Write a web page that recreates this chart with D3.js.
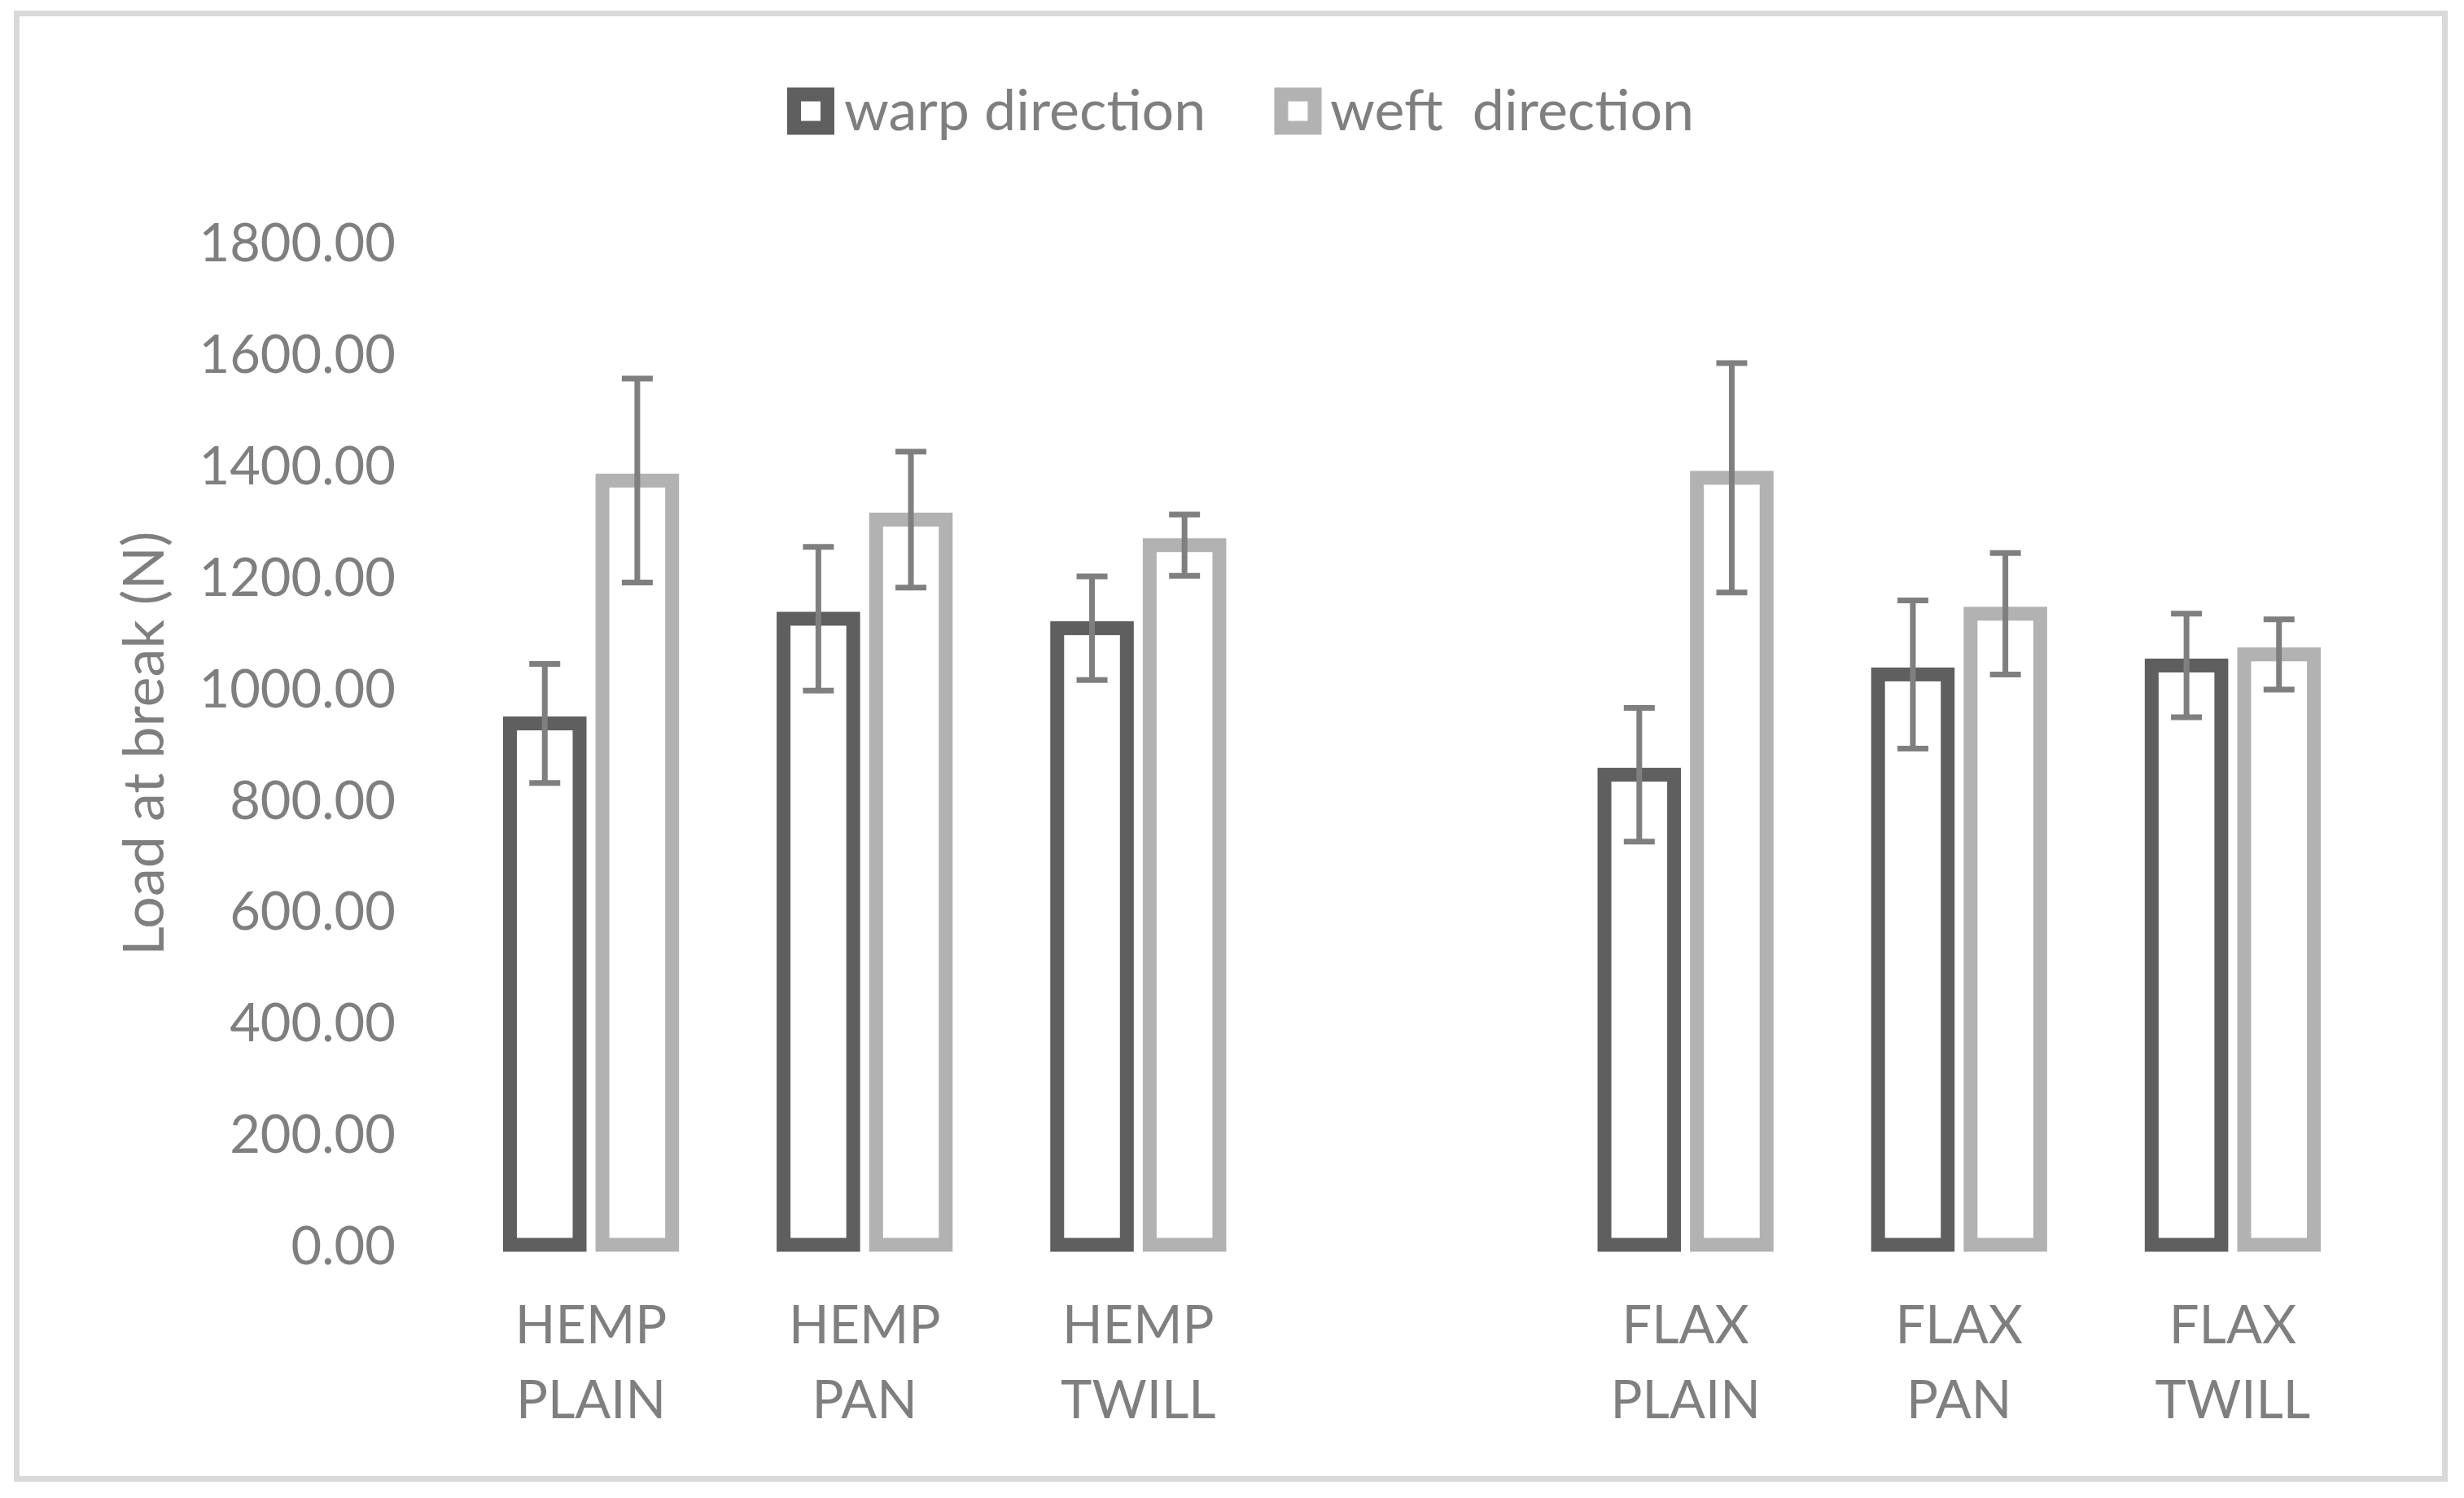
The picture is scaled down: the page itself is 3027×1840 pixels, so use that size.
<!DOCTYPE html>
<html>
<head>
<meta charset="utf-8">
<script src="https://cdn.jsdelivr.net/npm/d3@7"></script>
<style>
  html, body { margin: 0; padding: 0; background: #ffffff; }
  svg { display: block; }
  text { font-family: Lato, "Liberation Sans", sans-serif; fill: #7f7f7f; }
</style>
</head>
<body>
<script>
// ---- data ----
const categories = ["HEMP PLAIN", "HEMP PAN", "HEMP TWILL", "", "FLAX PLAIN", "FLAX PAN", "FLAX TWILL"];
const seriesNames = ["warp direction", "weft  direction"];
const warpValues = [936, 1124, 1107, null, 844, 1024, 1040];
const warpErrors = [107, 129, 93, null, 120, 133, 93];
const weftValues = [1372, 1302, 1256, null, 1377, 1133, 1060];
const weftErrors = [183, 122, 55, null, 206, 109, 63];
const yTicks = [0, 200, 400, 600, 800, 1000, 1200, 1400, 1600, 1800];
const yTitle = "Load at break (N)";

// ---- layout / style ----
const W = 3027, H = 1840;
const colors = ["#5f5f5f", "#b2b2b2"];
const errColor = "#7f7f7f";
const barStroke = 17;
const fontSize = 65;
const legendFontSize = 70;
const titleFontSize = 70;

const svg = d3.select("body").append("svg")
  .attr("width", W).attr("height", H);

svg.append("rect").attr("width", W).attr("height", H).attr("fill", "#ffffff");

// outer chart border
svg.append("rect")
  .attr("x", 20.5).attr("y", 16.5)
  .attr("width", 2983).attr("height", 1800)
  .attr("fill", "none").attr("stroke", "#d9d9d9").attr("stroke-width", 7);

const x0 = d3.scaleBand().domain(categories).range([558, 2911]).paddingInner(0).paddingOuter(0);
const x1 = d3.scaleBand().domain(["warp", "weft"]).range([0, x0.bandwidth()])
  .paddingInner(0.0977).paddingOuter(0.5277);
const y = d3.scaleLinear().domain([0, 1800]).range([1529, 297.5]);

// y axis (labels only)
const yAxis = d3.axisLeft(y).tickValues(yTicks).tickFormat(d3.format(".2f")).tickSize(0).tickPadding(0);
const gy = svg.append("g").attr("transform", "translate(486,0)").call(yAxis);
gy.select(".domain").remove();
gy.selectAll("text")
  .attr("fill", "#7f7f7f")
  .style("font-family", "Lato, 'Liberation Sans', sans-serif")
  .style("font-size", fontSize + "px")
  .attr("dy", "0.36em");

// y title
svg.append("text")
  .attr("transform", `translate(201, ${(y(0) + y(1800)) / 2}) rotate(-90)`)
  .attr("text-anchor", "middle")
  .style("font-size", titleFontSize + "px")
  .text(yTitle);

// rows
const rows = categories.map((c, i) => ({
  cat: c,
  bars: [
    { key: "warp", v: warpValues[i], e: warpErrors[i], color: colors[0] },
    { key: "weft", v: weftValues[i], e: weftErrors[i], color: colors[1] }
  ].filter(b => b.v != null)
}));

const groups = svg.append("g").selectAll("g").data(rows).join("g")
  .attr("transform", d => `translate(${x0(d.cat)},0)`);

groups.selectAll("rect").data(d => d.bars).join("rect")
  .attr("x", b => x1(b.key) + barStroke / 2)
  .attr("width", x1.bandwidth() - barStroke)
  .attr("y", b => y(b.v))
  .attr("height", b => y(0) - y(b.v))
  .attr("fill", "#ffffff")
  .attr("stroke", b => b.color)
  .attr("stroke-width", barStroke);

// error bars
const capHalf = 19;
const eb = groups.selectAll("g.err").data(d => d.bars).join("g").attr("class", "err")
  .attr("stroke", errColor).attr("stroke-width", 7);
eb.append("line")
  .attr("x1", b => x1(b.key) + x1.bandwidth() / 2)
  .attr("x2", b => x1(b.key) + x1.bandwidth() / 2)
  .attr("y1", b => y(b.v + b.e))
  .attr("y2", b => y(b.v - b.e));
eb.append("line")
  .attr("x1", b => x1(b.key) + x1.bandwidth() / 2 - capHalf)
  .attr("x2", b => x1(b.key) + x1.bandwidth() / 2 + capHalf)
  .attr("y1", b => y(b.v + b.e))
  .attr("y2", b => y(b.v + b.e));
eb.append("line")
  .attr("x1", b => x1(b.key) + x1.bandwidth() / 2 - capHalf)
  .attr("x2", b => x1(b.key) + x1.bandwidth() / 2 + capHalf)
  .attr("y1", b => y(b.v - b.e))
  .attr("y2", b => y(b.v - b.e));

// category labels (two lines)
const lab = svg.append("g").selectAll("text").data(categories.filter(c => c !== "")).join("text")
  .attr("text-anchor", "middle")
  .style("font-size", fontSize + "px");
lab.each(function (c) {
  const parts = c.split(" ");
  const t = d3.select(this);
  const cx = x0(c) + x0.bandwidth() / 2;
  parts.forEach((p, i) => {
    t.append("tspan").attr("x", cx).attr("y", 1650 + i * 92).text(p);
  });
});

// legend
const legendItems = [
  { name: seriesNames[0], color: colors[0], sx: 996, tx: 1037 },
  { name: seriesNames[1], color: colors[1], sx: 1594.5, tx: 1634 }
];
const lg = svg.append("g").selectAll("g").data(legendItems).join("g");
lg.append("rect")
  .attr("x", d => d.sx - 20.5).attr("y", 136.5 - 20.5)
  .attr("width", 41).attr("height", 41)
  .attr("fill", "#ffffff").attr("stroke", d => d.color).attr("stroke-width", 17);
lg.append("text")
  .attr("x", d => d.tx).attr("y", 160)
  .style("font-size", legendFontSize + "px")
  .style("white-space", "pre")
  .text(d => d.name);
</script>
</body>
</html>
